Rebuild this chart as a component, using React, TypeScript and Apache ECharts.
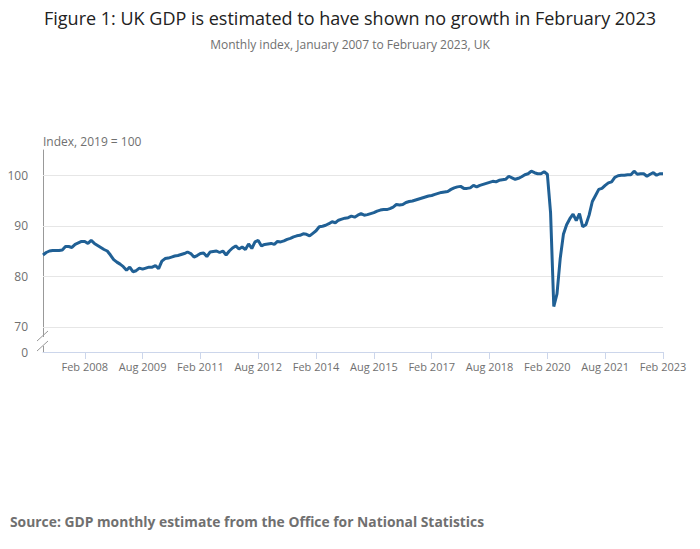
import { useRef, useEffect } from 'react';
import * as echarts from 'echarts';

// Monthly GDP index, 2019 = 100, Jan 2007 .. Feb 2023
const gdpIndex = [
  84.2, 84.7, 85.0, 85.1, 85.1, 85.1, 85.2, 85.9, 85.9, 85.7, 86.3, 86.6, // 2007
  86.9, 86.9, 86.5, 87.1, 86.5, 86.1, 85.7, 85.3, 85.0, 84.2, 83.3, 82.8, // 2008
  82.4, 81.9, 81.2, 81.8, 80.9, 81.1, 81.6, 81.4, 81.6, 81.8, 81.8, 82.1, // 2009
  81.5, 83.0, 83.5, 83.6, 83.8, 84.0, 84.1, 84.3, 84.5, 84.8, 84.5, 83.8, // 2010
  84.1, 84.5, 84.6, 83.9, 84.8, 84.9, 85.0, 84.7, 85.0, 84.2, 85.0, 85.6, // 2011
  86.0, 85.4, 85.8, 85.3, 86.4, 85.5, 86.8, 87.1, 86.0, 86.3, 86.4, 86.5, // 2012
  86.3, 86.9, 86.8, 87.0, 87.3, 87.5, 87.8, 88.0, 88.1, 88.4, 88.3, 88.0, // 2013
  88.5, 89.0, 89.8, 89.9, 90.1, 90.4, 90.8, 90.6, 91.1, 91.3, 91.5, 91.6, // 2014
  91.9, 91.7, 92.1, 92.4, 92.1, 92.2, 92.4, 92.6, 92.9, 93.1, 93.2, 93.2, // 2015
  93.4, 93.7, 94.2, 94.1, 94.2, 94.6, 94.8, 94.9, 95.1, 95.3, 95.5, 95.7, // 2016
  95.9, 96.0, 96.2, 96.4, 96.6, 96.7, 96.8, 97.2, 97.5, 97.7, 97.8, 97.4, // 2017
  97.4, 97.5, 98.0, 97.7, 98.0, 98.2, 98.4, 98.6, 98.8, 98.7, 99.0, 99.1, // 2018
  99.2, 99.8, 99.5, 99.2, 99.4, 99.7, 100.1, 100.3, 100.8, 100.5, 100.3, 100.3, // 2019
  100.7, 100.2, 92.6, 74.0, 76.5, 83.5, 88.3, 90.2, 91.4, 92.3, 91.0, 92.4, // 2020
  89.8, 90.2, 92.1, 94.8, 96.0, 97.2, 97.4, 98.0, 98.5, 98.7, 99.6, 99.9, // 2021
  100.0, 100.0, 100.1, 100.1, 100.8, 100.2, 100.3, 100.3, 99.8, 100.2, 100.5, 100.0, // 2022
  100.3, 100.3, // 2023
];

const START_YEAR = 2007;
const monthNames = ['Jan', 'Feb', 'Mar', 'Apr', 'May', 'Jun', 'Jul', 'Aug', 'Sep', 'Oct', 'Nov', 'Dec'];
const categories = gdpIndex.map(
  (_, i) => `${monthNames[i % 12]} ${START_YEAR + Math.floor(i / 12)}`,
);

const xTickLabels = [
  'Feb 2008', 'Aug 2009', 'Feb 2011', 'Aug 2012', 'Feb 2014', 'Aug 2015',
  'Feb 2017', 'Aug 2018', 'Feb 2020', 'Aug 2021', 'Feb 2023',
];
const yTickLabels = [70, 80, 90, 100];
// the axis is broken: its floor stands for zero
const Y_FLOOR = 65;
const Y_TOP = 105;

const FONT = '"Open Sans", sans-serif';
const BLUE = '#206095';
const GREY_TEXT = '#707070';

export default function App() {
  const chartRef = useRef<HTMLDivElement>(null);

  useEffect(() => {
    document.body.style.margin = '0';
    let chart: echarts.ECharts | undefined;
    if (chartRef.current) {
      chart = echarts.init(chartRef.current, undefined, { renderer: 'svg' });
      chart.setOption({
        animation: false,
        textStyle: { fontFamily: FONT },
        title: [
          {
            text: 'Figure 1: UK GDP is estimated to have shown no growth in February 2023',
            subtext: 'Monthly index, January 2007 to February 2023, UK',
            left: 'center',
            top: 8,
            padding: 0,
            itemGap: 9,
            textStyle: { fontSize: 18, fontWeight: 'normal', color: '#222222', lineHeight: 20, fontFamily: FONT },
            subtextStyle: { fontSize: 12, color: GREY_TEXT, lineHeight: 14, fontFamily: FONT },
          },
          {
            text: 'Source: GDP monthly estimate from the Office for National Statistics',
            left: 10,
            top: 512,
            padding: 0,
            textStyle: { fontSize: 13.85, fontWeight: 'bold', color: GREY_TEXT, lineHeight: 18, fontFamily: FONT },
          },
        ],
        grid: { left: 43, right: 37, top: 150, bottom: 197, containLabel: false },
        xAxis: {
          type: 'category',
          data: categories,
          boundaryGap: false,
          axisLine: { show: true, lineStyle: { color: '#ccd6eb', width: 1 } },
          axisTick: {
            show: true,
            alignWithLabel: true,
            length: 7,
            lineStyle: { color: '#ccd6eb' },
            interval: (_i: number, v: string) => xTickLabels.includes(v),
          },
          axisLabel: {
            color: GREY_TEXT,
            fontSize: 11,
            margin: 9,
            fontFamily: FONT,
            interval: (_i: number, v: string) => xTickLabels.includes(v),
          },
          splitLine: { show: false },
        },
        yAxis: {
          type: 'value',
          min: Y_FLOOR,
          max: Y_TOP,
          interval: 5,
          name: 'Index, 2019 = 100',
          nameLocation: 'end',
          nameGap: 3,
          nameTextStyle: { align: 'left', color: GREY_TEXT, fontSize: 12, fontFamily: FONT },
          axisLine: { show: true, lineStyle: { color: '#999999', width: 1 } },
          axisTick: { show: false },
          axisLabel: {
            color: GREY_TEXT,
            fontSize: 12,
            margin: 15,
            fontFamily: FONT,
            formatter: (v: number) =>
              v === Y_FLOOR ? '0' : yTickLabels.includes(v) ? String(v) : '',
          },
          splitLine: { show: false },
        },
        series: [
          {
            name: 'GDP',
            type: 'line',
            data: gdpIndex,
            symbol: 'none',
            z: 2,
            lineStyle: { color: BLUE, width: 3 },
            itemStyle: { color: BLUE },
            markLine: {
              silent: true,
              z: 1,
              symbol: ['none', 'none'],
              label: { show: false },
              lineStyle: { color: '#e6e6e6', width: 1, type: 'solid' },
              data: yTickLabels.map((v) => ({ yAxis: v })),
            },
          },
        ],
        graphic: [
          // gap and slashes marking the broken y axis
          { type: 'rect', z: 100, shape: { x: 40, y: 337, width: 6, height: 9 }, style: { fill: '#ffffff' } },
          { type: 'line', z: 101, shape: { x1: 37, y1: 341, x2: 48, y2: 331 }, style: { stroke: '#999999', lineWidth: 1 } },
          { type: 'line', z: 101, shape: { x1: 37, y1: 351, x2: 48, y2: 341 }, style: { stroke: '#999999', lineWidth: 1 } },
        ],
      });
    }
    return () => {
      chart?.dispose();
    };
  }, []);

  return <div ref={chartRef} style={{ width: 700, height: 549 }} />;
}
